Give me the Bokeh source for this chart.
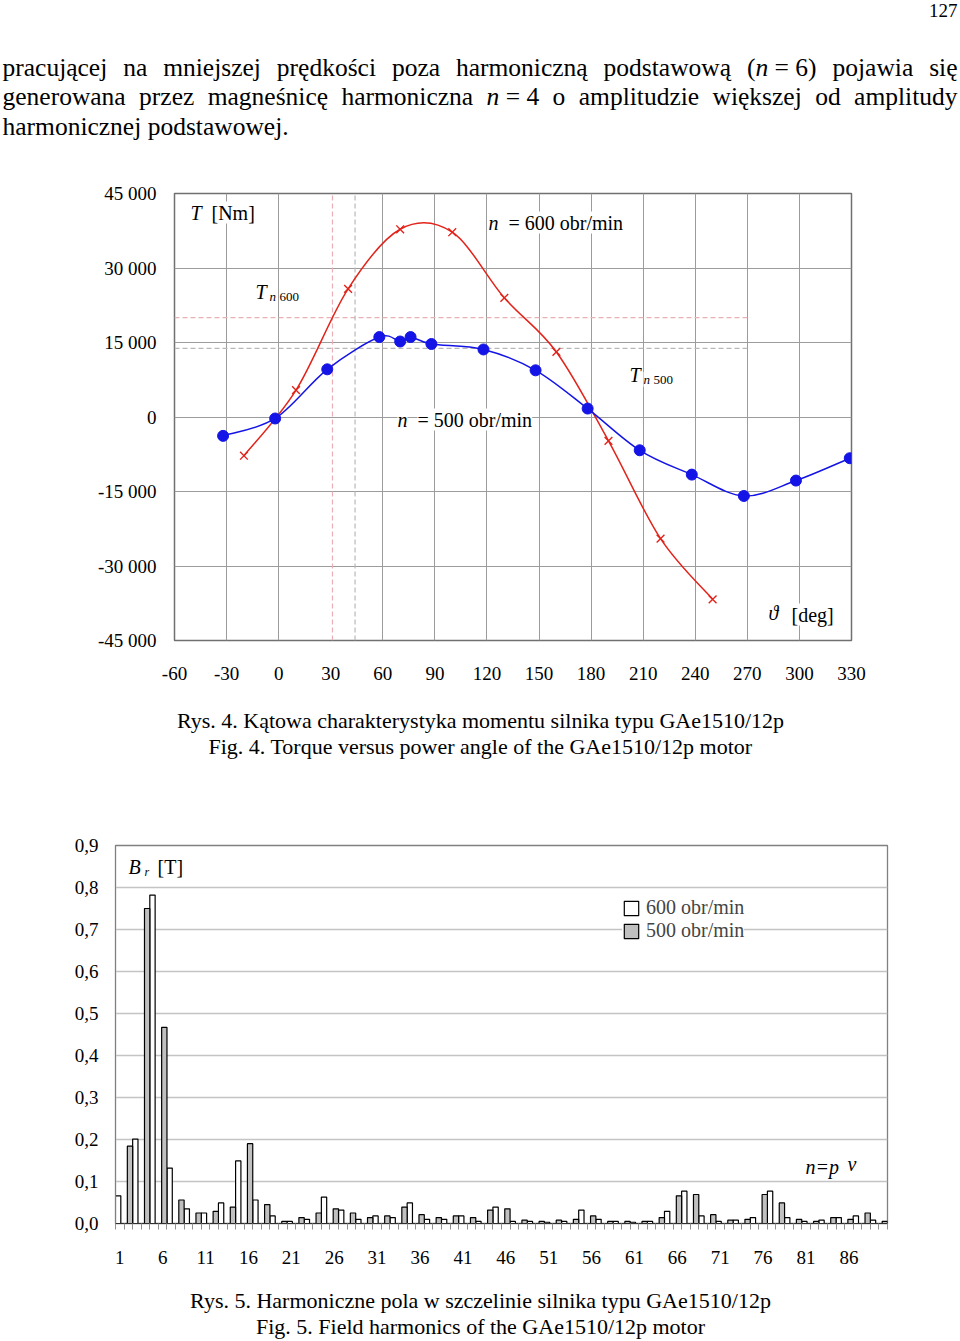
from bokeh.plotting import figure
from bokeh.models import Range1d, FixedTicker, Label, Legend, LegendItem, CustomJSTickFormatter
from bokeh.embed import file_html
from bokeh.resources import INLINE

FONT = "Liberation Serif"

# ---------------- Fig. 4 data (torque vs power angle) ----------------
angle_500 = [-32, -2, 28, 58, 70, 76, 88, 118, 148, 178, 208, 238, 268, 298, 329]
torque_500 = [-3800, -300, 9600, 16100, 15200, 16100, 14700, 13600, 9400, 1700,
              -6700, -11600, -15900, -12800, -8300]
angle_600 = [-20, 10, 40, 70, 100, 130, 160, 190, 220, 250]
torque_600 = [-7800, 5400, 25800, 37800, 37200, 24000, 13100, -4800, -24500, -36700]
rated_torque = [20000, 13800]      # T_n600, T_n500
rated_angle = [31, 44]
rated_angle_end = 270
angle_ticks = [-60, -30, 0, 30, 60, 90, 120, 150, 180, 210, 240, 270, 300, 330]
angle_grid = [-30, 0, 60, 90, 120, 150, 180, 210, 240, 270, 300]
torque_ticks = [-45000, -30000, -15000, 0, 15000, 30000, 45000]

# ---------------- Fig. 5 data (field harmonics) ----------------
harm_600 = list(range(1, 90, 2))
br_600 = [0.066, 0.201, 0.782, 0.132, 0.035, 0.025, 0.049, 0.149, 0.056, 0.018,
          0.005, 0.010, 0.063, 0.032, 0.010, 0.018, 0.014, 0.049, 0.010, 0.010,
          0.018, 0.005, 0.039, 0.005, 0.005, 0.003, 0.005, 0.032, 0.010, 0.005,
          0.003, 0.005, 0.029, 0.077, 0.018, 0.005, 0.008, 0.014, 0.077, 0.014,
          0.005, 0.008, 0.014, 0.018, 0.008]
harm_500 = list(range(2, 91, 2))
br_500 = [0.184, 0.750, 0.467, 0.056, 0.025, 0.029, 0.039, 0.190, 0.045, 0.005,
          0.014, 0.025, 0.035, 0.025, 0.014, 0.018, 0.039, 0.021, 0.014, 0.018,
          0.014, 0.032, 0.035, 0.008, 0.005, 0.008, 0.010, 0.018, 0.005, 0.005,
          0.005, 0.014, 0.066, 0.069, 0.021, 0.008, 0.010, 0.069, 0.049, 0.010,
          0.005, 0.014, 0.010, 0.025, 0.005]
harm_ticks = list(range(1, 90, 5))
br_ticks = [0.0, 0.1, 0.2, 0.3, 0.4, 0.5, 0.6, 0.7, 0.8, 0.9]

# Times / Liberation Serif advance widths (per 1000 em)
W = {'a': 444, 'b': 500, 'c': 444, 'd': 500, 'e': 444, 'f': 333, 'g': 500, 'h': 500,
     'i': 278, 'j': 278, 'k': 500, 'l': 278, 'm': 778, 'n': 500, 'o': 500, 'p': 500,
     'q': 500, 'r': 333, 's': 389, 't': 278, 'u': 500, 'v': 500, 'w': 722, 'x': 500,
     'y': 500, 'z': 444, ' ': 250, '(': 333, ')': 333, '=': 564, '.': 250, ',': 250,
     'ą': 444, 'ę': 444, 'ś': 389, 'ć': 444, 'ł': 278, 'ó': 500, 'ż': 444, 'ź': 444, 'ń': 500}


def tw(s, size):
    return sum(W.get(c, 500) for c in s) * size / 1000.0


def smooth(xs, ys):
    n = len(xs)
    d = dict(x0=[], y0=[], x1=[], y1=[], cx0=[], cy0=[], cx1=[], cy1=[])
    for i in range(n - 1):
        i0 = max(i - 1, 0)
        i3 = min(i + 2, n - 1)
        d['x0'].append(xs[i]); d['y0'].append(ys[i])
        d['x1'].append(xs[i + 1]); d['y1'].append(ys[i + 1])
        d['cx0'].append(xs[i] + (xs[i + 1] - xs[i0]) / 6.0)
        d['cy0'].append(ys[i] + (ys[i + 1] - ys[i0]) / 6.0)
        d['cx1'].append(xs[i + 1] - (xs[i3] - xs[i]) / 6.0)
        d['cy1'].append(ys[i + 1] - (ys[i3] - ys[i]) / 6.0)
    return d


def lab(fig, text, px, py, ox, oy, size, italic=False, align="left", bg=None):
    """Label in screen units relative to the frame's bottom-left (page coords ox, oy)."""
    fig.add_layout(Label(x=px - ox, y=oy - py, x_units="screen", y_units="screen",
                         text=text, text_font=FONT, text_font_size=f"{size}px",
                         text_font_style="italic" if italic else "normal",
                         text_align=align, text_baseline="middle", text_color="black",
                         background_fill_color=bg))


def text_fig(top, height):
    f = figure(width=960, height=height, x_range=Range1d(0, 960), y_range=Range1d(height, 0),
               x_axis_type=None, y_axis_type=None, output_backend="svg", toolbar_location=None,
               min_border=0, outline_line_color=None)
    f.grid.visible = False
    f._top = top
    return f


def tlab(f, text, px, py, size, italic=False, align="left"):
    f.add_layout(Label(x=px, y=py - f._top, text=text, text_font=FONT,
                       text_font_size=f"{size}px",
                       text_font_style="italic" if italic else "normal",
                       text_align=align, text_baseline="middle", text_color="black"))


# ====================== header text ======================
fT = text_fig(0, 160)
tlab(fT, "127", 957, 10, 19, align="right")
PS = 25.5
LEFT, RIGHT = 2, 957
para = [
    (67, ["pracującej", "na", "mniejszej", "prędkości", "poza", "harmoniczną", "podstawową",
          [("(", False), ("n", True), (" ", False), ("=", False), (" ", False), ("6)", False)],
          "pojawia", "się"], True),
    (96, ["generowana", "przez", "magneśnicę", "harmoniczna",
          [("n", True), (" ", False), ("=", False), (" ", False), ("4", False)], "o",
          "amplitudzie", "większej", "od", "amplitudy"], True),
    (126, ["harmonicznej", "podstawowej."], False),
]
for py, words, justify in para:
    words = [w if isinstance(w, list) else [(w, False)] for w in words]
    widths = [sum(tw(t, PS) for t, _ in w) for w in words]
    gap = (RIGHT - LEFT - sum(widths)) / (len(words) - 1) if justify else tw(" ", PS)
    x = LEFT
    for w, wd in zip(words, widths):
        xx = x
        for t, it in w:
            if t.strip():
                tlab(fT, t, xx, py, PS, it)
            xx += tw(t, PS)
        x += wd + gap

# ====================== Fig. 4 chart ======================
F1L, F1B = 174, 640   # page coords of frame bottom-left
p1 = figure(width=960, height=540, x_range=Range1d(-60, 330), y_range=Range1d(-45000, 45000),
            output_backend="svg", toolbar_location=None,
            min_border_left=174, min_border_right=109, min_border_top=33, min_border_bottom=60,
            outline_line_color="#707070", outline_line_width=1.5)

p1.xaxis.ticker = FixedTicker(ticks=angle_ticks)
p1.xaxis.formatter = CustomJSTickFormatter(code="return tick.toFixed(0);")
p1.yaxis.ticker = FixedTicker(ticks=torque_ticks)
p1.yaxis.formatter = CustomJSTickFormatter(code="""
const s = Math.abs(tick).toFixed(0).replace(/\\B(?=(\\d{3})+(?!\\d))/g, ' ');
return (tick < 0 ? '-' : '') + s;""")
for ax in (p1.xaxis[0], p1.yaxis[0]):
    ax.axis_line_color = None
    ax.major_tick_line_color = None
    ax.minor_tick_line_color = None
    ax.major_tick_out = 0
    ax.major_tick_in = 0
    ax.major_label_text_font = FONT
    ax.major_label_text_font_size = "19px"
    ax.major_label_text_color = "black"
p1.xaxis.major_label_standoff = 26
p1.yaxis.major_label_standoff = 18

p1.xgrid.ticker = FixedTicker(ticks=angle_grid)
p1.ygrid.ticker = FixedTicker(ticks=torque_ticks[1:-1])
p1.xgrid.grid_line_color = "#9c9c9c"
p1.ygrid.grid_line_color = "#9c9c9c"

# rated torque reference lines
p1.segment(x0=[-60, -60], y0=rated_torque, x1=[rated_angle_end] * 2, y1=rated_torque,
           line_color=["#eab0b6", "#b8b8b8"], line_dash="5 3", line_width=1.2)
p1.segment(x0=rated_angle, y0=[-45000, -45000], x1=rated_angle, y1=[45000, 45000],
           line_color=["#eab0b6", "#b8b8b8"], line_dash="5 3", line_width=1.2)

RED, BLUE = "#e2231a", "#1414e6"
p1.bezier(line_color=RED, line_width=1.5, **smooth(angle_600, torque_600))
p1.bezier(line_color=BLUE, line_width=1.5, **smooth(angle_500, torque_500))
p1.scatter(angle_600, torque_600, marker="x", size=11, line_color=RED, line_width=1.4)
p1.scatter(angle_500, torque_500, marker="circle", size=11, fill_color=BLUE, line_color=BLUE)

lab(p1, "T", 190, 212, F1L, F1B, 20, True, bg="white")
lab(p1, "[Nm]", 211, 212, F1L, F1B, 20, bg="white")
lab(p1, "n", 488, 222, F1L, F1B, 20, True, bg="white")
lab(p1, "= 600 obr/min", 508, 222, F1L, F1B, 20, bg="white")
lab(p1, "T", 255, 291, F1L, F1B, 20, True, bg="white")
lab(p1, "n", 269, 296, F1L, F1B, 13, True, bg="white")
lab(p1, "600", 279, 296, F1L, F1B, 13, bg="white")
lab(p1, "T", 629, 374, F1L, F1B, 20, True, bg="white")
lab(p1, "n", 643, 379, F1L, F1B, 13, True, bg="white")
lab(p1, "500", 653, 379, F1L, F1B, 13, bg="white")
lab(p1, "n", 397, 419, F1L, F1B, 20, True, bg="white")
lab(p1, "= 500 obr/min", 417, 419, F1L, F1B, 20, bg="white")
lab(p1, "\u03d1", 768, 612, F1L, F1B, 20, True, bg="white")
lab(p1, "[deg]", 791, 614, F1L, F1B, 20, bg="white")

# ====================== captions Fig. 4 ======================
fC1 = text_fig(700, 90)
tlab(fC1, "Rys. 4. Kątowa charakterystyka momentu silnika typu GAe1510/12p", 480, 720, 22, align="center")
tlab(fC1, "Fig. 4. Torque versus power angle of the GAe1510/12p motor", 480, 746, 22, align="center")

# ====================== Fig. 5 chart ======================
F2L, F2B = 115, 1223
p2 = figure(width=960, height=490, x_range=Range1d(0.5, 90.5), y_range=Range1d(0, 0.9),
            output_backend="svg", toolbar_location=None,
            min_border_left=115, min_border_right=73, min_border_top=55, min_border_bottom=57,
            outline_line_color="#808080", outline_line_width=1.3)

p2.xaxis.ticker = FixedTicker(ticks=harm_ticks, minor_ticks=[k + 0.5 for k in range(0, 91)])
p2.yaxis.ticker = FixedTicker(ticks=br_ticks)
p2.yaxis.formatter = CustomJSTickFormatter(code="return tick.toFixed(1).replace('.', ',');")
for ax in (p2.xaxis[0], p2.yaxis[0]):
    ax.major_tick_line_color = None
    ax.major_tick_out = 0
    ax.major_tick_in = 0
    ax.major_label_text_font = FONT
    ax.major_label_text_font_size = "19px"
    ax.major_label_text_color = "black"
p2.yaxis.minor_tick_line_color = None
p2.yaxis.axis_line_color = "#808080"
p2.xaxis.axis_line_color = "#303030"
p2.xaxis.axis_line_width = 1.2
p2.xaxis.minor_tick_line_color = "#909090"
p2.xaxis.minor_tick_out = 6
p2.xaxis.minor_tick_in = 0
p2.xaxis.major_label_standoff = 21
p2.yaxis.major_label_standoff = 17
p2.xgrid.grid_line_color = None
p2.ygrid.ticker = FixedTicker(ticks=br_ticks[1:])
p2.ygrid.grid_line_color = "#c4c4c4"
p2.ygrid.grid_line_width = 1.3

BW = 0.62
r600 = p2.vbar(x=[h - 0.5 + BW / 2 for h in harm_600], top=br_600, width=BW, bottom=0,
               fill_color="white", line_color="black", line_width=1.2)
r500 = p2.vbar(x=[h + 0.5 - BW / 2 for h in harm_500], top=br_500, width=BW, bottom=0,
               fill_color="#c0c0c0", line_color="black", line_width=1.2)

legend = Legend(items=[LegendItem(label="600 obr/min", renderers=[r600]),
                       LegendItem(label="500 obr/min", renderers=[r500])],
                location=(507, 281), padding=4, spacing=0, margin=0,
                glyph_width=18, glyph_height=18, label_height=17, label_standoff=6,
                label_text_font=FONT, label_text_font_size="20px",
                background_fill_color="white", background_fill_alpha=1.0,
                border_line_color=None)
p2.add_layout(legend)

lab(p2, "B", 128, 866, F2L, F2B, 20, True, bg="white")
lab(p2, "r", 144, 871, F2L, F2B, 12, True, bg="white")
lab(p2, "[T]", 157, 866, F2L, F2B, 20, bg="white")
lab(p2, "n=p", 805, 1166, F2L, F2B, 20, True, bg="white")
lab(p2, "\u03bd", 847, 1163, F2L, F2B, 20, True, bg="white")

# ====================== captions Fig. 5 ======================
fC2 = text_fig(1280, 61)
tlab(fC2, "Rys. 5. Harmoniczne pola w szczelinie silnika typu GAe1510/12p", 480, 1300, 22, align="center")
tlab(fC2, "Fig. 5. Field harmonics of the GAe1510/12p motor", 480, 1326, 22, align="center")

open("out.html", "w").write(file_html([fT, p1, fC1, p2, fC2], INLINE))
